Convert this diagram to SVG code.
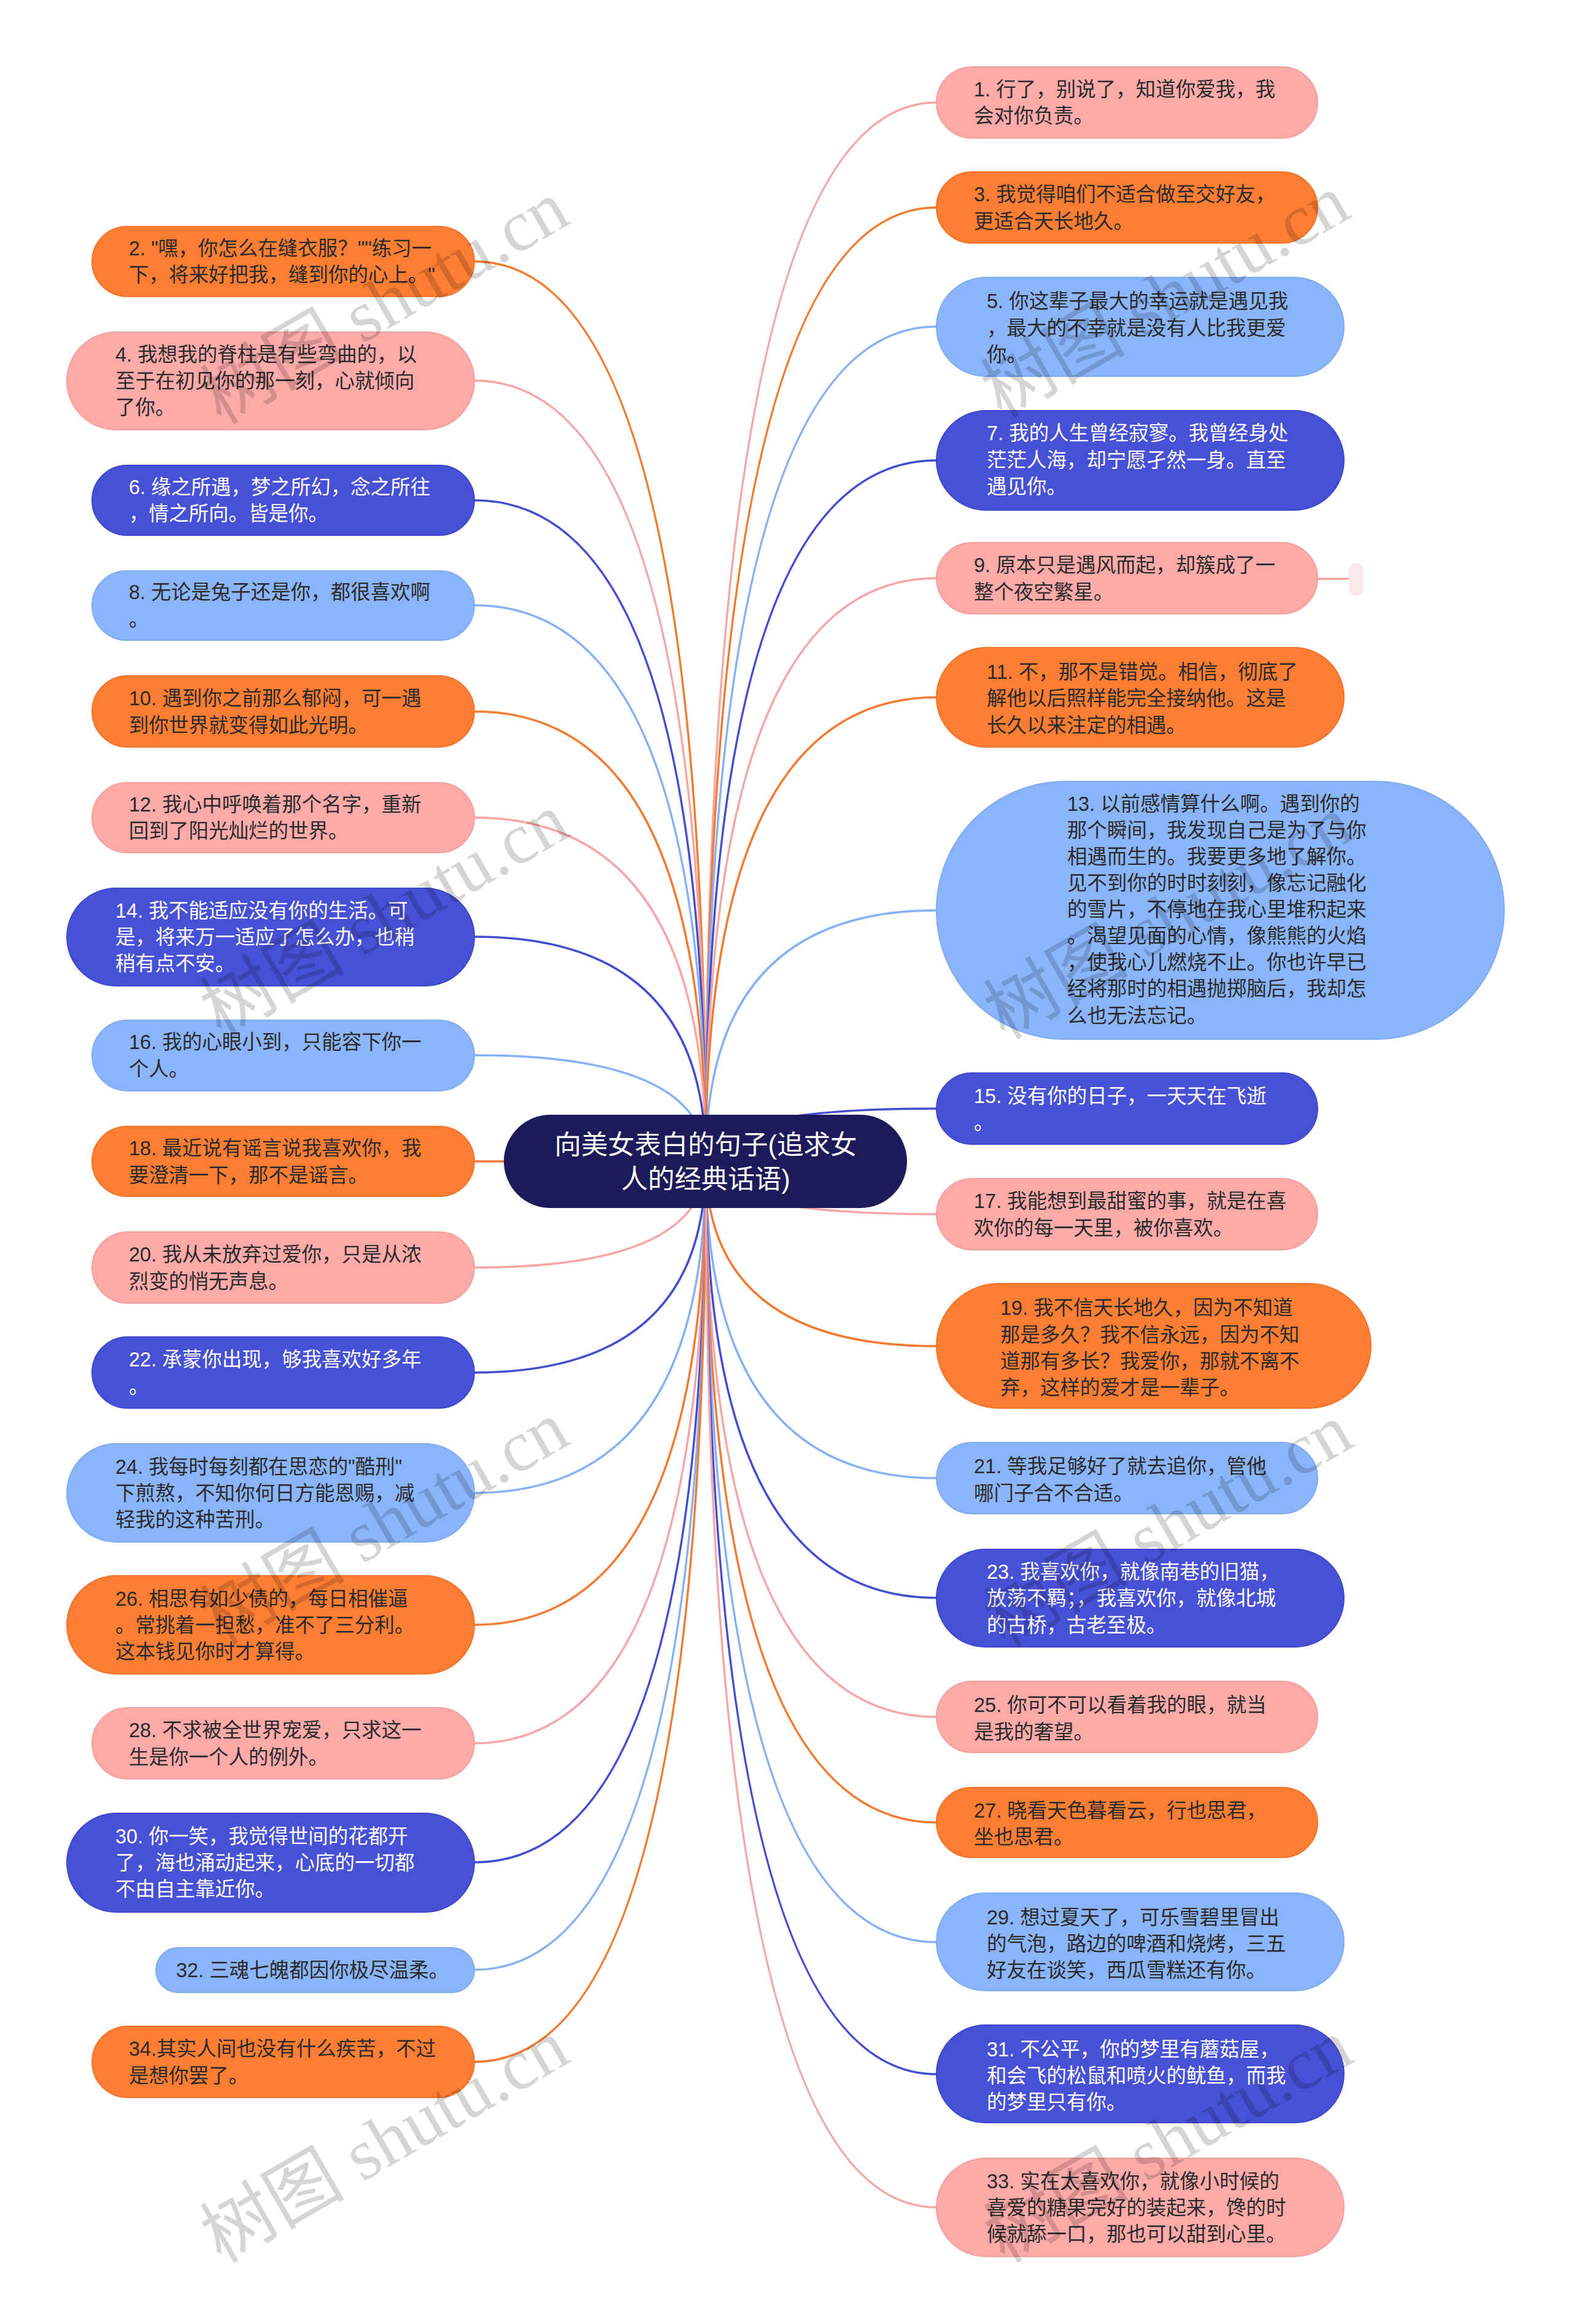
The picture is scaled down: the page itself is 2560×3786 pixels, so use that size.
<svg xmlns="http://www.w3.org/2000/svg" width="2560" height="3786" viewBox="0 0 2560 3786">
<style>
.bg{fill:#ffffff}
.or{fill:#FD7E33;stroke:#F3742A;stroke-width:2}
.pk{fill:#FDAAA9;stroke:#F5A0A0;stroke-width:2}
.lb{fill:#8AB5FA;stroke:#80ACF4;stroke-width:2}
.db{fill:#4751D6;stroke:#3F48CC;stroke-width:2}
.root{fill:#1C1A58}
.c-or{stroke:#F47A30}
.c-pk{stroke:#F7A5A5}
.c-lb{stroke:#86B0F7}
.c-db{stroke:#444DD0}
#connectors path{fill:none;stroke-width:3.5}
text{font-family:"Liberation Sans","Noto Sans CJK SC",sans-serif;font-size:32.5px}
.td{fill:#2a2a2a}
.tl{fill:#ffffff}
.rt{fill:#ffffff;font-size:43.5px}
.wm{font-family:"Liberation Serif","Noto Sans CJK SC",serif;font-size:118px;fill:#000;opacity:0.16}
</style>
<rect class="bg" x="0" y="0" width="2560" height="3786"/>
<g id="connectors">
<path class="c-or" d="M1150 1892 Q1150 426 773 426"/>
<path class="c-pk" d="M1150 1892 Q1150 620 773 620"/>
<path class="c-db" d="M1150 1892 Q1150 815 773 815"/>
<path class="c-lb" d="M1150 1892 Q1150 986 773 986"/>
<path class="c-or" d="M1150 1892 Q1150 1159 773 1159"/>
<path class="c-pk" d="M1150 1892 Q1150 1332 773 1332"/>
<path class="c-db" d="M1150 1892 Q1150 1526 773 1526"/>
<path class="c-lb" d="M1150 1892 Q1150 1719 773 1719"/>
<path class="c-or" d="M1150 1892 Q1150 1892 773 1892"/>
<path class="c-pk" d="M1150 1892 Q1150 2065 773 2065"/>
<path class="c-db" d="M1150 1892 Q1150 2236 773 2236"/>
<path class="c-lb" d="M1150 1892 Q1150 2432 773 2432"/>
<path class="c-or" d="M1150 1892 Q1150 2647 773 2647"/>
<path class="c-pk" d="M1150 1892 Q1150 2840 773 2840"/>
<path class="c-db" d="M1150 1892 Q1150 3034 773 3034"/>
<path class="c-lb" d="M1150 1892 Q1150 3209 773 3209"/>
<path class="c-or" d="M1150 1892 Q1150 3359 773 3359"/>
<path class="c-pk" d="M1150 1892 Q1150 167 1526 167"/>
<path class="c-or" d="M1150 1892 Q1150 338 1526 338"/>
<path class="c-lb" d="M1150 1892 Q1150 532 1526 532"/>
<path class="c-db" d="M1150 1892 Q1150 750 1526 750"/>
<path class="c-pk" d="M1150 1892 Q1150 942 1526 942"/>
<path class="c-or" d="M1150 1892 Q1150 1136 1526 1136"/>
<path class="c-lb" d="M1150 1892 Q1150 1483 1526 1483"/>
<path class="c-db" d="M1150 1892 Q1150 1806 1526 1806"/>
<path class="c-pk" d="M1150 1892 Q1150 1978 1526 1978"/>
<path class="c-or" d="M1150 1892 Q1150 2193 1526 2193"/>
<path class="c-lb" d="M1150 1892 Q1150 2408 1526 2408"/>
<path class="c-db" d="M1150 1892 Q1150 2603 1526 2603"/>
<path class="c-pk" d="M1150 1892 Q1150 2797 1526 2797"/>
<path class="c-or" d="M1150 1892 Q1150 2969 1526 2969"/>
<path class="c-lb" d="M1150 1892 Q1150 3164 1526 3164"/>
<path class="c-db" d="M1150 1892 Q1150 3379 1526 3379"/>
<path class="c-pk" d="M1150 1892 Q1150 3596 1526 3596"/>
<path class="c-pk" d="M2147 943 L2198 943"/>
</g>
<g id="root">
<rect class="root" x="821" y="1816" width="657" height="152" rx="76"/>
<text class="rt" x="1150" y="1880" text-anchor="middle">向美女表白的句子(追求女</text>
<text class="rt" x="1150" y="1936" text-anchor="middle">人的经典话语)</text>
</g>
<g id="n2"><rect class="or" x="150" y="369" width="623" height="114" rx="57"/>
<text class="td" x="210" y="416">2. "嘿，你怎么在缝衣服？""练习一</text>
<text class="td" x="210" y="459">下，将来好把我，缝到你的心上。"</text></g>
<g id="n4"><rect class="pk" x="109" y="541" width="664" height="159" rx="79.5"/>
<text class="td" x="188" y="589">4. 我想我的脊柱是有些弯曲的，以</text>
<text class="td" x="188" y="632">至于在初见你的那一刻，心就倾向</text>
<text class="td" x="188" y="675">了你。</text></g>
<g id="n6"><rect class="db" x="150" y="758" width="623" height="114" rx="57"/>
<text class="tl" x="210" y="805">6. 缘之所遇，梦之所幻，念之所往</text>
<text class="tl" x="210" y="848">，情之所向。皆是你。</text></g>
<g id="n8"><rect class="lb" x="150" y="930" width="623" height="113" rx="56.5"/>
<text class="td" x="210" y="976">8. 无论是兔子还是你，都很喜欢啊</text>
<text class="td" x="210" y="1020">。</text></g>
<g id="n10"><rect class="or" x="150" y="1101" width="623" height="116" rx="58"/>
<text class="td" x="210" y="1149">10. 遇到你之前那么郁闷，可一遇</text>
<text class="td" x="210" y="1193">到你世界就变得如此光明。</text></g>
<g id="n12"><rect class="pk" x="150" y="1275" width="623" height="114" rx="57"/>
<text class="td" x="210" y="1322">12. 我心中呼唤着那个名字，重新</text>
<text class="td" x="210" y="1365">回到了阳光灿烂的世界。</text></g>
<g id="n14"><rect class="db" x="109" y="1447" width="664" height="159" rx="79.5"/>
<text class="tl" x="188" y="1495">14. 我不能适应没有你的生活。可</text>
<text class="tl" x="188" y="1538">是，将来万一适应了怎么办，也稍</text>
<text class="tl" x="188" y="1581">稍有点不安。</text></g>
<g id="n16"><rect class="lb" x="150" y="1662" width="623" height="115" rx="57.5"/>
<text class="td" x="210" y="1709">16. 我的心眼小到，只能容下你一</text>
<text class="td" x="210" y="1753">个人。</text></g>
<g id="n18"><rect class="or" x="150" y="1835" width="623" height="114" rx="57"/>
<text class="td" x="210" y="1882">18. 最近说有谣言说我喜欢你，我</text>
<text class="td" x="210" y="1926">要澄清一下，那不是谣言。</text></g>
<g id="n20"><rect class="pk" x="150" y="2007" width="623" height="116" rx="58"/>
<text class="td" x="210" y="2055">20. 我从未放弃过爱你，只是从浓</text>
<text class="td" x="210" y="2099">烈变的悄无声息。</text></g>
<g id="n22"><rect class="db" x="150" y="2178" width="623" height="116" rx="58"/>
<text class="tl" x="210" y="2226">22. 承蒙你出现，够我喜欢好多年</text>
<text class="tl" x="210" y="2270">。</text></g>
<g id="n24"><rect class="lb" x="109" y="2352" width="664" height="160" rx="80"/>
<text class="td" x="188" y="2401">24. 我每时每刻都在思恋的"酷刑"</text>
<text class="td" x="188" y="2444">下煎熬，不知你何日方能恩赐，减</text>
<text class="td" x="188" y="2487">轻我的这种苦刑。</text></g>
<g id="n26"><rect class="or" x="109" y="2567" width="664" height="160" rx="80"/>
<text class="td" x="188" y="2616">26. 相思有如少债的，每日相催逼</text>
<text class="td" x="188" y="2659">。常挑着一担愁，准不了三分利。</text>
<text class="td" x="188" y="2702">这本钱见你时才算得。</text></g>
<g id="n28"><rect class="pk" x="150" y="2782" width="623" height="116" rx="58"/>
<text class="td" x="210" y="2830">28. 不求被全世界宠爱，只求这一</text>
<text class="td" x="210" y="2874">生是你一个人的例外。</text></g>
<g id="n30"><rect class="db" x="109" y="2954" width="664" height="161" rx="80.5"/>
<text class="tl" x="188" y="3003">30. 你一笑，我觉得世间的花都开</text>
<text class="tl" x="188" y="3046">了，海也涌动起来，心底的一切都</text>
<text class="tl" x="188" y="3089">不由自主靠近你。</text></g>
<g id="n32"><rect class="lb" x="254" y="3173" width="519" height="73" rx="36.5"/>
<text class="td" x="287" y="3221">32. 三魂七魄都因你极尽温柔。</text></g>
<g id="n34"><rect class="or" x="150" y="3301" width="623" height="116" rx="58"/>
<text class="td" x="210" y="3349">34.其实人间也没有什么疾苦，不过</text>
<text class="td" x="210" y="3393">是想你罢了。</text></g>
<g id="n1"><rect class="pk" x="1526" y="109" width="621" height="116" rx="58"/>
<text class="td" x="1587" y="157">1. 行了，别说了，知道你爱我，我</text>
<text class="td" x="1587" y="200">会对你负责。</text></g>
<g id="n3"><rect class="or" x="1526" y="280" width="621" height="116" rx="58"/>
<text class="td" x="1587" y="328">3. 我觉得咱们不适合做至交好友，</text>
<text class="td" x="1587" y="372">更适合天长地久。</text></g>
<g id="n5"><rect class="lb" x="1526" y="452" width="664" height="161" rx="80.5"/>
<text class="td" x="1608" y="502">5. 你这辈子最大的幸运就是遇见我</text>
<text class="td" x="1608" y="546">，最大的不幸就是没有人比我更爱</text>
<text class="td" x="1608" y="589">你。</text></g>
<g id="n7"><rect class="db" x="1526" y="669" width="664" height="162" rx="81"/>
<text class="tl" x="1608" y="717">7. 我的人生曾经寂寥。我曾经身处</text>
<text class="tl" x="1608" y="761">茫茫人海，却宁愿孑然一身。直至</text>
<text class="tl" x="1608" y="804">遇见你。</text></g>
<g id="n9"><rect class="pk" x="1526" y="884" width="621" height="116" rx="58"/>
<text class="td" x="1587" y="932">9. 原本只是遇风而起，却簇成了一</text>
<text class="td" x="1587" y="976">整个夜空繁星。</text>
<rect x="2198" y="917" width="24" height="54" rx="12" fill="#FDE9E9"/></g>
<g id="n11"><rect class="or" x="1526" y="1055" width="664" height="162" rx="81"/>
<text class="td" x="1608" y="1106">11. 不，那不是错觉。相信，彻底了</text>
<text class="td" x="1608" y="1149">解他以后照样能完全接纳他。这是</text>
<text class="td" x="1608" y="1193">长久以来注定的相遇。</text></g>
<g id="n13"><rect class="lb" x="1526" y="1273" width="925" height="420" rx="210"/>
<text class="td" x="1739" y="1321">13. 以前感情算什么啊。遇到你的</text>
<text class="td" x="1739" y="1364">那个瞬间，我发现自己是为了与你</text>
<text class="td" x="1739" y="1407">相遇而生的。我要更多地了解你。</text>
<text class="td" x="1739" y="1450">见不到你的时时刻刻，像忘记融化</text>
<text class="td" x="1739" y="1493">的雪片，不停地在我心里堆积起来</text>
<text class="td" x="1739" y="1536">。渴望见面的心情，像熊熊的火焰</text>
<text class="td" x="1739" y="1579">，使我心儿燃烧不止。你也许早已</text>
<text class="td" x="1739" y="1622">经将那时的相遇抛掷脑后，我却怎</text>
<text class="td" x="1739" y="1666">么也无法忘记。</text></g>
<g id="n15"><rect class="db" x="1526" y="1748" width="621" height="116" rx="58"/>
<text class="tl" x="1587" y="1797">15. 没有你的日子，一天天在飞逝</text>
<text class="tl" x="1587" y="1840">。</text></g>
<g id="n17"><rect class="pk" x="1526" y="1920" width="621" height="116" rx="58"/>
<text class="td" x="1587" y="1968">17. 我能想到最甜蜜的事，就是在喜</text>
<text class="td" x="1587" y="2012">欢你的每一天里，被你喜欢。</text></g>
<g id="n19"><rect class="or" x="1526" y="2091" width="708" height="203" rx="101.5"/>
<text class="td" x="1630" y="2142">19. 我不信天长地久，因为不知道</text>
<text class="td" x="1630" y="2186">那是多久？我不信永远，因为不知</text>
<text class="td" x="1630" y="2229">道那有多长？我爱你，那就不离不</text>
<text class="td" x="1630" y="2272">弃，这样的爱才是一辈子。</text></g>
<g id="n21"><rect class="lb" x="1526" y="2350" width="621" height="116" rx="58"/>
<text class="td" x="1587" y="2400">21. 等我足够好了就去追你，管他</text>
<text class="td" x="1587" y="2444">哪门子合不合适。</text></g>
<g id="n23"><rect class="db" x="1526" y="2524" width="664" height="159" rx="79.5"/>
<text class="tl" x="1608" y="2572">23. 我喜欢你，就像南巷的旧猫，</text>
<text class="tl" x="1608" y="2615">放荡不羁；，我喜欢你，就像北城</text>
<text class="tl" x="1608" y="2659">的古桥，古老至极。</text></g>
<g id="n25"><rect class="pk" x="1526" y="2739" width="621" height="116" rx="58"/>
<text class="td" x="1587" y="2789">25. 你可不可以看着我的眼，就当</text>
<text class="td" x="1587" y="2833">是我的奢望。</text></g>
<g id="n27"><rect class="or" x="1526" y="2912" width="621" height="114" rx="57"/>
<text class="td" x="1587" y="2961">27. 晓看天色暮看云，行也思君，</text>
<text class="td" x="1587" y="3004">坐也思君。</text></g>
<g id="n29"><rect class="lb" x="1526" y="3084" width="664" height="159" rx="79.5"/>
<text class="td" x="1608" y="3135">29. 想过夏天了，可乐雪碧里冒出</text>
<text class="td" x="1608" y="3178">的气泡，路边的啤酒和烧烤，三五</text>
<text class="td" x="1608" y="3221">好友在谈笑，西瓜雪糕还有你。</text></g>
<g id="n31"><rect class="db" x="1526" y="3299" width="664" height="159" rx="79.5"/>
<text class="tl" x="1608" y="3350">31. 不公平，你的梦里有蘑菇屋，</text>
<text class="tl" x="1608" y="3393">和会飞的松鼠和喷火的鱿鱼，而我</text>
<text class="tl" x="1608" y="3436">的梦里只有你。</text></g>
<g id="n33"><rect class="pk" x="1526" y="3516" width="664" height="160" rx="80"/>
<text class="td" x="1608" y="3565">33. 实在太喜欢你，就像小时候的</text>
<text class="td" x="1608" y="3608">喜爱的糖果完好的装起来，馋的时</text>
<text class="td" x="1608" y="3651">候就舔一口，那也可以甜到心里。</text></g>
<g id="watermarks">
<text class="wm" transform="translate(360 693) rotate(-30)">树图 shutu.cn</text>
<text class="wm" transform="translate(1632 683) rotate(-30)">树图 shutu.cn</text>
<text class="wm" transform="translate(360 1691) rotate(-30)">树图 shutu.cn</text>
<text class="wm" transform="translate(1637 1695) rotate(-30)">树图 shutu.cn</text>
<text class="wm" transform="translate(360 2681) rotate(-30)">树图 shutu.cn</text>
<text class="wm" transform="translate(1637 2685) rotate(-30)">树图 shutu.cn</text>
<text class="wm" transform="translate(360 3688) rotate(-30)">树图 shutu.cn</text>
<text class="wm" transform="translate(1637 3688) rotate(-30)">树图 shutu.cn</text>
</g>
</svg>
